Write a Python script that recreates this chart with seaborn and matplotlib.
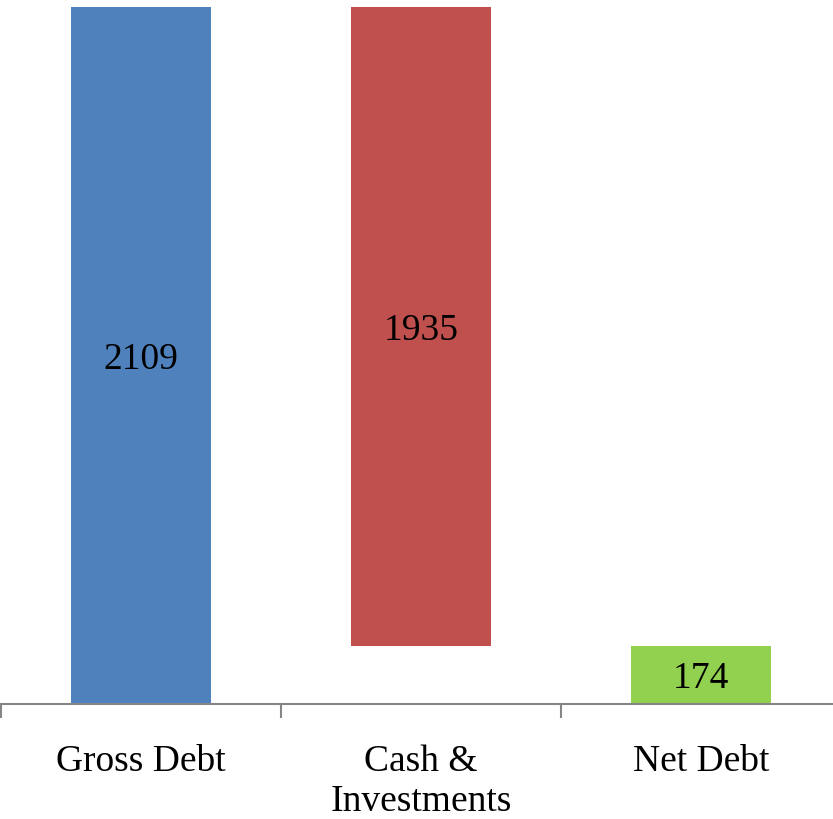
import matplotlib
matplotlib.use("Agg")
import matplotlib.pyplot as plt
import matplotlib.transforms as mtransforms
import seaborn as sns
import pandas as pd
from matplotlib.ticker import FixedLocator

# Waterfall: gross debt, minus cash, leaves net debt
categories = ["Gross Debt", "Cash &\nInvestments", "Net Debt"]
values = [2109, 1935, 174]
bases = [0, 2109 - 1935, 0]
colors = ["#4F81BD", "#C0504D", "#92D050"]

sns.set_theme(style="white")
plt.rcParams["font.family"] = ["Liberation Serif", "DejaVu Serif"]

df = pd.DataFrame({"category": categories, "value": values})

fig = plt.figure(figsize=(8.33, 8.19), dpi=100)
ax = fig.add_axes([1 / 833, 115 / 819, 840 / 833, 704 / 819])

sns.barplot(data=df, x="category", y="value", order=categories,
            width=0.5, bottom=bases, color=colors[0], ax=ax,
            linewidth=0, saturation=1)

for patch, c in zip(ax.patches, colors):
    patch.set_facecolor(c)
    patch.set_edgecolor("none")

# value labels: digits visually centred in each floating bar
label_tr = mtransforms.offset_copy(ax.transData, fig=fig, x=0, y=-9.4,
                                   units="points")
for i, (v, b) in enumerate(zip(values, bases)):
    ax.text(i, b + v / 2, f"{v}", ha="center", va="baseline",
            fontsize=27, color="black", transform=label_tr)

ax.set_xlim(-0.5, 2.5)
ax.set_ylim(0, 2130)
ax.set_xlabel("")
ax.set_ylabel("")
ax.set_yticks([])

for side in ["left", "right", "top"]:
    ax.spines[side].set_visible(False)
ax.spines["bottom"].set_color("#868686")
ax.spines["bottom"].set_linewidth(1.5)

ax.xaxis.set_minor_locator(FixedLocator([-0.5, 0.5, 1.5, 2.5]))
ax.tick_params(axis="x", which="minor", bottom=True, length=10, width=1.5,
               color="#868686", direction="out")
ax.tick_params(axis="x", which="major", bottom=False, length=0, pad=29,
               labelsize=27, labelcolor="black")
for lab in ax.get_xticklabels():
    lab.set_linespacing(1.2)
    lab.set_verticalalignment("top")

fig.savefig("out.png", dpi=100)
